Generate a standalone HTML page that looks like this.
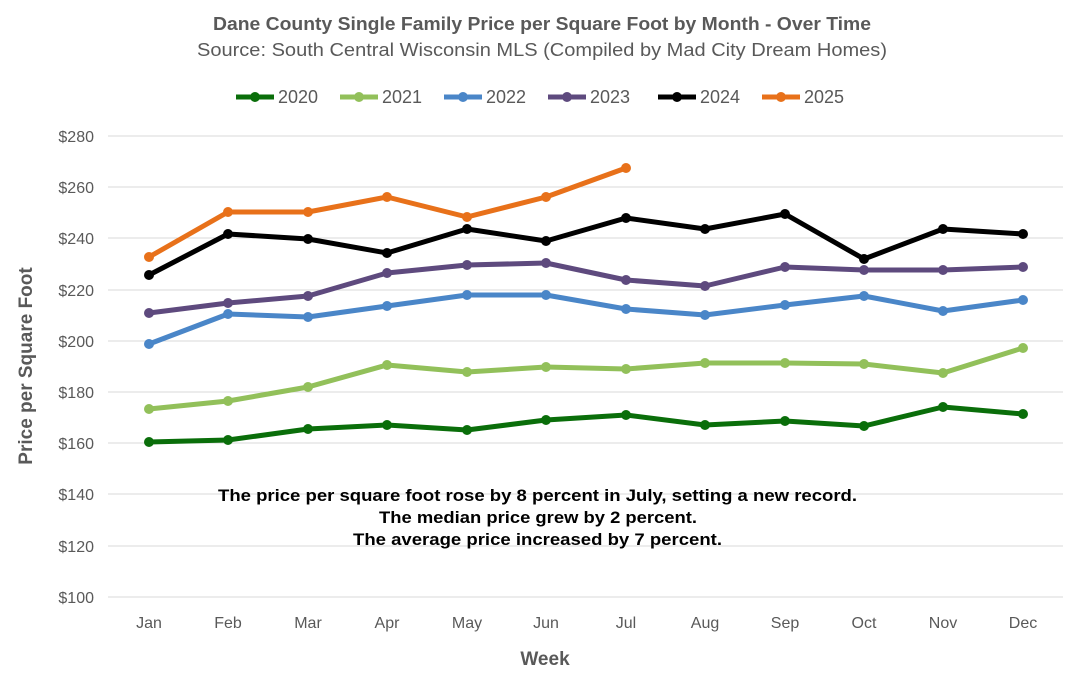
<!DOCTYPE html>
<html><head><meta charset="utf-8"><style>
body{margin:0;background:#fff;}
svg{display:block;font-family:"Liberation Sans",sans-serif;}
</style></head><body>
<svg width="1076" height="682" xmlns="http://www.w3.org/2000/svg">
<text x="213" y="30" textLength="658" lengthAdjust="spacingAndGlyphs" font-size="18" font-weight="bold" fill="#595959">Dane County Single Family Price per Square Foot by Month - Over Time</text>
<text x="197" y="56" textLength="690" lengthAdjust="spacingAndGlyphs" font-size="18" fill="#595959">Source: South Central Wisconsin MLS (Compiled by Mad City Dream Homes)</text>
<g font-size="18" fill="#595959">
<line x1="236" y1="97" x2="274" y2="97" stroke="#0a6e0a" stroke-width="5"/><circle cx="255" cy="97" r="5" fill="#0a6e0a"/><text x="278" y="103">2020</text>
<line x1="340" y1="97" x2="378" y2="97" stroke="#92c05a" stroke-width="5"/><circle cx="359" cy="97" r="5" fill="#92c05a"/><text x="382" y="103">2021</text>
<line x1="444" y1="97" x2="482" y2="97" stroke="#4a86c8" stroke-width="5"/><circle cx="463" cy="97" r="5" fill="#4a86c8"/><text x="486" y="103">2022</text>
<line x1="548" y1="97" x2="586" y2="97" stroke="#5e4a7e" stroke-width="5"/><circle cx="567" cy="97" r="5" fill="#5e4a7e"/><text x="590" y="103">2023</text>
<line x1="658" y1="97" x2="696" y2="97" stroke="#000" stroke-width="5"/><circle cx="677" cy="97" r="5" fill="#000"/><text x="700" y="103">2024</text>
<line x1="762" y1="97" x2="800" y2="97" stroke="#e8711a" stroke-width="5"/><circle cx="781" cy="97" r="5" fill="#e8711a"/><text x="804" y="103">2025</text>
</g>
<g stroke="#d9d9d9" stroke-width="1">
<line x1="108" y1="136" x2="1063" y2="136"/><line x1="108" y1="187" x2="1063" y2="187"/><line x1="108" y1="238" x2="1063" y2="238"/><line x1="108" y1="290" x2="1063" y2="290"/><line x1="108" y1="341" x2="1063" y2="341"/><line x1="108" y1="392" x2="1063" y2="392"/><line x1="108" y1="443" x2="1063" y2="443"/><line x1="108" y1="494" x2="1063" y2="494"/><line x1="108" y1="546" x2="1063" y2="546"/><line x1="108" y1="597" x2="1063" y2="597"/>
</g>
<g font-size="16" fill="#595959" text-anchor="end">
<text x="94" y="142">$280</text><text x="94" y="193">$260</text><text x="94" y="244">$240</text><text x="94" y="296">$220</text><text x="94" y="347">$200</text><text x="94" y="398">$180</text><text x="94" y="449">$160</text><text x="94" y="500">$140</text><text x="94" y="552">$120</text><text x="94" y="603">$100</text>
</g>
<g font-size="16" fill="#595959" text-anchor="middle">
<text x="149" y="628">Jan</text><text x="228" y="628">Feb</text><text x="308" y="628">Mar</text><text x="387" y="628">Apr</text><text x="467" y="628">May</text><text x="546" y="628">Jun</text><text x="626" y="628">Jul</text><text x="705" y="628">Aug</text><text x="785" y="628">Sep</text><text x="864" y="628">Oct</text><text x="943" y="628">Nov</text><text x="1023" y="628">Dec</text>
</g>
<text x="545" y="665" text-anchor="middle" font-size="19" font-weight="bold" fill="#595959">Week</text>
<text transform="translate(32,366) rotate(-90)" text-anchor="middle" font-size="19" font-weight="bold" fill="#595959">Price per Square Foot</text>
<g font-size="17" font-weight="bold" fill="#000">
<text x="218" y="501" textLength="639" lengthAdjust="spacingAndGlyphs">The price per square foot rose by 8 percent in July, setting a new record.</text>
<text x="379" y="523" textLength="318" lengthAdjust="spacingAndGlyphs">The median price grew by 2 percent.</text>
<text x="353" y="545" textLength="369" lengthAdjust="spacingAndGlyphs">The average price increased by 7 percent.</text>
</g>
<g fill="none" stroke-width="5" stroke-linejoin="round">
<polyline stroke="#0a6e0a" points="149,442 228,440 308,429 387,425 467,430 546,420 626,415 705,425 785,421 864,426 943,407 1023,414"/>
<polyline stroke="#92c05a" points="149,409 228,401 308,387 387,365 467,372 546,367 626,369 705,363 785,363 864,364 943,373 1023,348"/>
<polyline stroke="#4a86c8" points="149,344 228,314 308,317 387,306 467,295 546,295 626,309 705,315 785,305 864,296 943,311 1023,300"/>
<polyline stroke="#5e4a7e" points="149,313 228,303 308,296 387,273 467,265 546,263 626,280 705,286 785,267 864,270 943,270 1023,267"/>
<polyline stroke="#000" points="149,275 228,234 308,239 387,253 467,229 546,241 626,218 705,229 785,214 864,259 943,229 1023,234"/>
<polyline stroke="#e8711a" points="149,257 228,212 308,212 387,197 467,217 546,197 626,168"/>
</g>
<g fill="#0a6e0a"><circle cx="149" cy="442" r="5"/><circle cx="228" cy="440" r="5"/><circle cx="308" cy="429" r="5"/><circle cx="387" cy="425" r="5"/><circle cx="467" cy="430" r="5"/><circle cx="546" cy="420" r="5"/><circle cx="626" cy="415" r="5"/><circle cx="705" cy="425" r="5"/><circle cx="785" cy="421" r="5"/><circle cx="864" cy="426" r="5"/><circle cx="943" cy="407" r="5"/><circle cx="1023" cy="414" r="5"/></g>
<g fill="#92c05a"><circle cx="149" cy="409" r="5"/><circle cx="228" cy="401" r="5"/><circle cx="308" cy="387" r="5"/><circle cx="387" cy="365" r="5"/><circle cx="467" cy="372" r="5"/><circle cx="546" cy="367" r="5"/><circle cx="626" cy="369" r="5"/><circle cx="705" cy="363" r="5"/><circle cx="785" cy="363" r="5"/><circle cx="864" cy="364" r="5"/><circle cx="943" cy="373" r="5"/><circle cx="1023" cy="348" r="5"/></g>
<g fill="#4a86c8"><circle cx="149" cy="344" r="5"/><circle cx="228" cy="314" r="5"/><circle cx="308" cy="317" r="5"/><circle cx="387" cy="306" r="5"/><circle cx="467" cy="295" r="5"/><circle cx="546" cy="295" r="5"/><circle cx="626" cy="309" r="5"/><circle cx="705" cy="315" r="5"/><circle cx="785" cy="305" r="5"/><circle cx="864" cy="296" r="5"/><circle cx="943" cy="311" r="5"/><circle cx="1023" cy="300" r="5"/></g>
<g fill="#5e4a7e"><circle cx="149" cy="313" r="5"/><circle cx="228" cy="303" r="5"/><circle cx="308" cy="296" r="5"/><circle cx="387" cy="273" r="5"/><circle cx="467" cy="265" r="5"/><circle cx="546" cy="263" r="5"/><circle cx="626" cy="280" r="5"/><circle cx="705" cy="286" r="5"/><circle cx="785" cy="267" r="5"/><circle cx="864" cy="270" r="5"/><circle cx="943" cy="270" r="5"/><circle cx="1023" cy="267" r="5"/></g>
<g fill="#000"><circle cx="149" cy="275" r="5"/><circle cx="228" cy="234" r="5"/><circle cx="308" cy="239" r="5"/><circle cx="387" cy="253" r="5"/><circle cx="467" cy="229" r="5"/><circle cx="546" cy="241" r="5"/><circle cx="626" cy="218" r="5"/><circle cx="705" cy="229" r="5"/><circle cx="785" cy="214" r="5"/><circle cx="864" cy="259" r="5"/><circle cx="943" cy="229" r="5"/><circle cx="1023" cy="234" r="5"/></g>
<g fill="#e8711a"><circle cx="149" cy="257" r="5"/><circle cx="228" cy="212" r="5"/><circle cx="308" cy="212" r="5"/><circle cx="387" cy="197" r="5"/><circle cx="467" cy="217" r="5"/><circle cx="546" cy="197" r="5"/><circle cx="626" cy="168" r="5"/></g>
</svg>
</body></html>
